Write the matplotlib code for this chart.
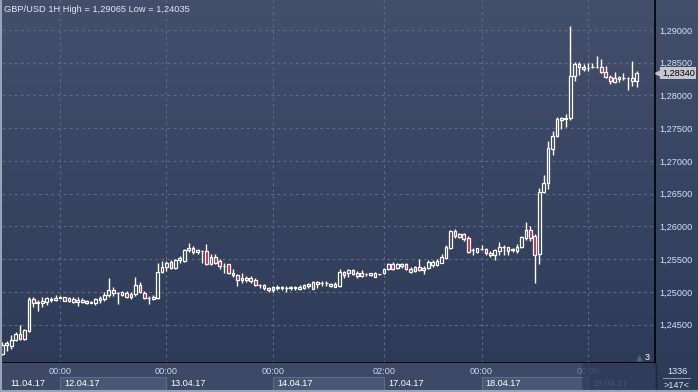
import numpy as np
import matplotlib
matplotlib.use('Agg')
import matplotlib.pyplot as plt
import matplotlib.transforms as mtrans
from matplotlib.colors import LinearSegmentedColormap
from matplotlib.patches import Rectangle
from matplotlib.lines import Line2D

# GBP/USD hourly candles, 11.04.17 - 19.04.17
opens = [1.24060, 1.24227, 1.24177, 1.24273, 1.24364, 1.24288, 1.24404, 1.24894, 1.24843, 1.24833,
         1.24853, 1.24874, 1.24884, 1.24914, 1.24924, 1.24869, 1.24894, 1.24843, 1.24853, 1.24869,
         1.24838, 1.24828, 1.24884, 1.24894, 1.24955, 1.25030, 1.24985, 1.24960, 1.24980, 1.24929,
         1.24970, 1.25111, 1.24990, 1.24904, 1.24894, 1.24904, 1.25311, 1.25378, 1.25459, 1.25367,
         1.25485, 1.25475, 1.25643, 1.25679, 1.25612, 1.25627, 1.25627, 1.25423, 1.25541, 1.25474,
         1.25398, 1.25423, 1.25286, 1.25255, 1.25179, 1.25209, 1.25169, 1.25179, 1.25102, 1.25102,
         1.25067, 1.25026, 1.25057, 1.25082, 1.25057, 1.25057, 1.25082, 1.25051, 1.25067, 1.25123,
         1.25051, 1.25117, 1.25143, 1.25138, 1.25092, 1.25118, 1.25092, 1.25306, 1.25286, 1.25337,
         1.25296, 1.25245, 1.25281, 1.25260, 1.25296, 1.25270, 1.25286, 1.25357, 1.25434, 1.25373,
         1.25398, 1.25424, 1.25357, 1.25322, 1.25383, 1.25337, 1.25362, 1.25413, 1.25413, 1.25449,
         1.25526, 1.25679, 1.25933, 1.25847, 1.25883, 1.25821, 1.25638, 1.25617, 1.25653, 1.25653,
         1.25602, 1.25558, 1.25624, 1.25680, 1.25680, 1.25645, 1.25624, 1.25685, 1.25828, 1.25940,
         1.25854, 1.25573, 1.26527, 1.26670, 1.27180, 1.27384, 1.27628, 1.27638, 1.27649, 1.28302,
         1.28480, 1.28403, 1.28413, 1.28429, 1.28429, 1.28439, 1.28352, 1.28286, 1.28210, 1.28286,
         1.28261, 1.28266, 1.28266, 1.28215]
highs = [1.24237, 1.24247, 1.24338, 1.24389, 1.24490, 1.24429, 1.24919, 1.24929, 1.24884, 1.24919,
         1.24929, 1.24919, 1.24960, 1.24944, 1.24929, 1.24929, 1.24919, 1.24929, 1.24904, 1.24884,
         1.24869, 1.24904, 1.24944, 1.24995, 1.25212, 1.25071, 1.25000, 1.25020, 1.25020, 1.24995,
         1.25222, 1.25146, 1.25020, 1.24939, 1.24955, 1.25449, 1.25474, 1.25474, 1.25485, 1.25500,
         1.25551, 1.25653, 1.25745, 1.25704, 1.25663, 1.25643, 1.25730, 1.25577, 1.25577, 1.25500,
         1.25439, 1.25434, 1.25347, 1.25281, 1.25286, 1.25245, 1.25245, 1.25209, 1.25117, 1.25117,
         1.25077, 1.25092, 1.25102, 1.25092, 1.25092, 1.25092, 1.25092, 1.25102, 1.25117, 1.25143,
         1.25168, 1.25168, 1.25168, 1.25168, 1.25143, 1.25158, 1.25347, 1.25322, 1.25357, 1.25357,
         1.25322, 1.25337, 1.25296, 1.25296, 1.25306, 1.25280, 1.25373, 1.25439, 1.25459, 1.25449,
         1.25449, 1.25439, 1.25388, 1.25398, 1.25500, 1.25398, 1.25490, 1.25485, 1.25500, 1.25577,
         1.25719, 1.25949, 1.25959, 1.25908, 1.25898, 1.25857, 1.25668, 1.25679, 1.25714, 1.25679,
         1.25628, 1.25649, 1.25762, 1.25716, 1.25690, 1.25675, 1.25726, 1.25854, 1.26068, 1.26007,
         1.25879, 1.26593, 1.26787, 1.27307, 1.27460, 1.27674, 1.27674, 1.27715, 1.29065, 1.28516,
         1.28516, 1.28480, 1.28496, 1.28496, 1.28607, 1.28556, 1.28454, 1.28312, 1.28353, 1.28302,
         1.28342, 1.28286, 1.28531, 1.28378]
lows = [1.24035, 1.24101, 1.24136, 1.24247, 1.24273, 1.24273, 1.24389, 1.24768, 1.24717, 1.24778,
        1.24808, 1.24853, 1.24869, 1.24904, 1.24858, 1.24848, 1.24828, 1.24793, 1.24828, 1.24823,
        1.24828, 1.24808, 1.24828, 1.24858, 1.24919, 1.24944, 1.24818, 1.24944, 1.24909, 1.24894,
        1.24944, 1.24980, 1.24894, 1.24818, 1.24879, 1.24894, 1.25286, 1.25322, 1.25357, 1.25357,
        1.25449, 1.25459, 1.25612, 1.25577, 1.25577, 1.25449, 1.25408, 1.25408, 1.25423, 1.25347,
        1.25296, 1.25270, 1.25235, 1.25092, 1.25133, 1.25153, 1.25143, 1.25092, 1.25067, 1.25031,
        1.25006, 1.25006, 1.25031, 1.25031, 1.25006, 1.25031, 1.25031, 1.25031, 1.25041, 1.25067,
        1.25041, 1.25057, 1.25092, 1.25092, 1.25077, 1.25072, 1.25077, 1.25220, 1.25235, 1.25255,
        1.25220, 1.25230, 1.25245, 1.25245, 1.25230, 1.25265, 1.25270, 1.25332, 1.25337, 1.25357,
        1.25373, 1.25332, 1.25296, 1.25306, 1.25322, 1.25281, 1.25347, 1.25388, 1.25398, 1.25439,
        1.25500, 1.25653, 1.25832, 1.25832, 1.25781, 1.25602, 1.25561, 1.25602, 1.25643, 1.25561,
        1.25541, 1.25486, 1.25558, 1.25558, 1.25558, 1.25609, 1.25598, 1.25675, 1.25787, 1.25777,
        1.25140, 1.25430, 1.26517, 1.26578, 1.27088, 1.27374, 1.27496, 1.27521, 1.27630, 1.28215,
        1.28310, 1.28368, 1.28378, 1.28413, 1.28413, 1.28337, 1.28261, 1.28174, 1.28185, 1.28200,
        1.28235, 1.28082, 1.28138, 1.28123]
closes = [1.24187, 1.24187, 1.24273, 1.24364, 1.24288, 1.24414, 1.24899, 1.24828, 1.24838, 1.24869,
          1.24904, 1.24899, 1.24909, 1.24929, 1.24869, 1.24909, 1.24843, 1.24884, 1.24884, 1.24833,
          1.24843, 1.24894, 1.24904, 1.24960, 1.25030, 1.24980, 1.24990, 1.24995, 1.24919, 1.24970,
          1.25101, 1.24995, 1.24904, 1.24909, 1.24919, 1.25308, 1.25378, 1.25449, 1.25367, 1.25485,
          1.25515, 1.25643, 1.25679, 1.25612, 1.25643, 1.25632, 1.25423, 1.25541, 1.25449, 1.25398,
          1.25403, 1.25286, 1.25255, 1.25179, 1.25209, 1.25179, 1.25220, 1.25102, 1.25107, 1.25057,
          1.25031, 1.25082, 1.25082, 1.25057, 1.25062, 1.25082, 1.25057, 1.25082, 1.25107, 1.25092,
          1.25153, 1.25153, 1.25138, 1.25143, 1.25118, 1.25082, 1.25306, 1.25260, 1.25337, 1.25270,
          1.25245, 1.25286, 1.25275, 1.25286, 1.25235, 1.25275, 1.25357, 1.25424, 1.25357, 1.25434,
          1.25424, 1.25347, 1.25306, 1.25388, 1.25332, 1.25373, 1.25459, 1.25464, 1.25474, 1.25541,
          1.25694, 1.25933, 1.25857, 1.25883, 1.25806, 1.25612, 1.25643, 1.25668, 1.25658, 1.25592,
          1.25566, 1.25634, 1.25685, 1.25685, 1.25624, 1.25650, 1.25690, 1.25838, 1.25940, 1.25828,
          1.25558, 1.26527, 1.26670, 1.27195, 1.27384, 1.27640, 1.27664, 1.27664, 1.28302, 1.28480,
          1.28429, 1.28429, 1.28418, 1.28434, 1.28434, 1.28352, 1.28276, 1.28215, 1.28266, 1.28250,
          1.28266, 1.28271, 1.28215, 1.28340]

price_levels = [1.245, 1.250, 1.255, 1.260, 1.265, 1.270, 1.275, 1.280, 1.285, 1.290]
day_labels = ['11.04.17', '12.04.17', '13.04.17', '14.04.17', '17.04.17', '18.04.17', '19.04.17']
day_starts = [0, 13, 37, 61, 86, 108, 132]   # candle index where each day begins
time_labels = ['00:00', '00:00', '00:00', '02:00', '00:00', '00:00']

o = np.array(opens); h = np.array(highs); l = np.array(lows); c = np.array(closes)
x = np.arange(len(o))
up = c >= o
body_lo = np.minimum(o, c)
body_hi = np.maximum(o, c)

W, H = 698, 392
fig = plt.figure(figsize=(W / 100, H / 100), dpi=100)
plt.rcParams['font.family'] = ['Liberation Sans', 'DejaVu Sans']

# background gradient
bg = fig.add_axes([0, 0, 1, 1], zorder=-10)
cmap = LinearSegmentedColormap.from_list('bg', ['#434f6b', '#2c3a57'])
bg.imshow(np.linspace(0, 1, 256).reshape(-1, 1), cmap=cmap, aspect='auto', extent=[0, 1, 0, 1])
bg.axis('off')

ax = fig.add_axes([2 / W, 29 / H, 653 / W, 363 / H])
ax.set_facecolor('none')
ax.set_xlim(-0.07, 147.1)
ax.set_ylim(1.23916, 1.29458)

# candles: hollow white = up, red = down
ax.vlines(x, l, body_lo, color='white', lw=1, zorder=3)
ax.vlines(x, body_hi, h, color='white', lw=1, zorder=3)
heights = np.maximum(body_hi - body_lo, 0.00002)
ax.bar(x, heights, bottom=body_lo, width=0.6,
       color=np.where(up, 'none', '#d8143c').tolist(), edgecolor='white', linewidth=0.9, zorder=4)

# grid and axes
ax.set_yticks(price_levels)
ax.set_yticklabels([f'{v:.5f}'.replace('.', ',') for v in price_levels])
ax.yaxis.tick_right()
ax.tick_params(axis='y', length=0, pad=3, labelsize=6.6, labelcolor='#d4e2f7')
ax.set_xticks(day_starts[1:])
ax.tick_params(axis='x', length=0, labelbottom=False)
ax.grid(True, color='#5d6b88', lw=0.8, ls=(0, (2.5, 3)))
for s in ['left', 'top']:
    ax.spines[s].set_visible(False)
for s in ['right', 'bottom']:
    ax.spines[s].set_color('black')
    ax.spines[s].set_linewidth(1.2)

ax.text(0.9847, 0.016, '3', transform=ax.transAxes, color='white', fontsize=6.6, ha='left', va='center')
ax.plot([0.976], [0.014], marker='^', ms=3.5, color='#55607b', transform=ax.transAxes, clip_on=False)

# last price tag
blend = mtrans.blended_transform_factory(ax.transAxes, ax.transData)
last = c[-1]
ax.plot([1.006], [last], marker='<', ms=6, color='#c4c7ce', transform=blend, clip_on=False, zorder=6)
ax.text(1.0105, last, f'{last:.5f}'.replace('.', ','), transform=blend, ha='left', va='center',
        fontsize=6.6, color='black', zorder=7,
        bbox=dict(boxstyle='square,pad=0.18', fc='#c4c7ce', ec='none'))

# bottom time axis
axb = fig.add_axes([2 / W, 0, 653 / W, 29 / H])
axb.set_xlim(ax.get_xlim())
axb.set_ylim(0, 29)
axb.set_facecolor('#3d4966')
axb.set_xticks([]); axb.set_yticks([])
for s in axb.spines.values():
    s.set_visible(False)
ends = day_starts[1:] + [147.1]
for k, (a, b) in enumerate(zip(day_starts, ends)):
    if k % 2 == 1 and k < 6:
        axb.add_patch(Rectangle((a, 1.5), b - a, 13.5, fc='#4a5774', ec='#5f6c88', lw=0.8))
axb.text(1.7, 8.3, day_labels[0], color='white', fontsize=6.6, ha='left', va='center')
for k in range(1, len(day_labels)):
    col = 'white' if k < 6 else '#6f7b95'
    axb.text(day_starts[k] + 0.9, 8.3, day_labels[k], color=col, fontsize=6.6, ha='left', va='center')
    tcol = '#c9d6ec' if k < 6 else '#6f7b95'
    axb.text(day_starts[k], 21, time_labels[k - 1], color=tcol, fontsize=6.6, ha='center', va='center')
axb.add_patch(Rectangle((day_starts[6] - 1.3, 0), 147.1 - day_starts[6] + 1.3, 29,
                        fc='#263250', alpha=0.55, ec='none', zorder=5))

# divider between time axis and counter box
fig.add_artist(Line2D([655.5 / W, 655.5 / W], [0, 29 / H], color='#1e2740', lw=1.0,
                      transform=fig.transFigure))

# corner counters
fig.text(677 / W, 1 - 371 / H, '1336', color='#e2e8f3', fontsize=6.6, ha='center', va='center')
fig.add_artist(Line2D([663 / W, 690 / W], [1 - 378 / H, 1 - 378 / H], color='#8a95ab', lw=0.8,
                      transform=fig.transFigure))
fig.text(677 / W, 1 - 385 / H, '>147<', color='#e2e8f3', fontsize=6.6, ha='center', va='center')

# title
fig.text(4 / W, 1 - 9 / H, 'GBP/USD 1H High = 1,29065 Low = 1,24035', color='#e3e9f3',
         fontsize=6.7, ha='left', va='center')

# window frame
fig.add_artist(Line2D([0.8 / W, 0.8 / W], [0, 1], color='#9aa3b6', lw=1.5, transform=fig.transFigure))
fig.add_artist(Line2D([0, 1], [1 / H, 1 / H], color='#9aa3b6', lw=1.5, transform=fig.transFigure))

fig.savefig('out.png', dpi=100)
